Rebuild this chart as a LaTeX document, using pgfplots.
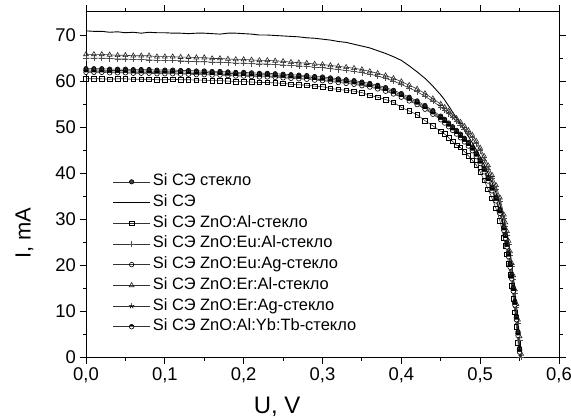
\documentclass[border=0pt]{standalone}
\usepackage{fontspec}
\setmainfont{Liberation Sans}
\usepackage{pgfplots}
\usepackage{pgfplotstable}
\pgfplotsset{compat=1.18}
\usetikzlibrary{plotmarks}

% legend sample with a plain line, for the curve drawn without marks
\pgfplotsset{solidleg/.style={legend image code/.code={\draw[##1] (0bp,0bp) -- (37bp,0bp);}}}

% V, Si CE (S), steklo (G), ZnO:Al (Q), ZnO:Eu:Al (P), ZnO:Eu:Ag (O), ZnO:Er:Al (T), ZnO:Er:Ag (St), ZnO:Al:Yb:Tb (Y)
\pgfplotstableread{
V     S    G    Q    P    O    T    St   Y
0.00  70.9 62.7 60.5 65.0 62.4 65.8 62.1 61.9
0.01  70.8 62.7 60.5 65.0 62.4 65.8 62.1 61.9
0.02  70.8 62.7 60.5 65.0 62.4 65.8 62.1 61.9
0.03  70.6 62.6 60.4 64.9 62.3 65.7 62.0 61.8
0.04  70.7 62.6 60.5 64.8 62.3 65.6 62.0 61.8
0.05  70.5 62.6 60.5 64.8 62.3 65.6 62.0 61.8
0.06  70.6 62.5 60.4 64.7 62.2 65.5 61.9 61.7
0.07  70.4 62.5 60.4 64.7 62.2 65.5 61.9 61.7
0.08  70.6 62.5 60.4 64.6 62.2 65.5 61.9 61.7
0.09  70.5 62.4 60.3 64.5 62.1 65.3 61.8 61.6
0.10  70.5 62.4 60.3 64.5 62.1 65.3 61.8 61.6
0.11  70.4 62.4 60.4 64.5 62.1 65.3 61.8 61.6
0.12  70.4 62.3 60.3 64.4 62.0 65.2 61.7 61.5
0.13  70.3 62.3 60.3 64.3 62.0 65.2 61.7 61.5
0.14  70.4 62.2 60.2 64.2 61.9 65.1 61.6 61.4
0.15  70.4 62.2 60.2 64.2 61.9 65.1 61.6 61.4
0.16  70.3 62.1 60.1 64.1 61.8 64.9 61.5 61.3
0.17  70.2 62.1 60.1 64.1 61.8 64.9 61.5 61.3
0.18  70.4 62.0 60.0 64.0 61.7 64.8 61.4 61.2
0.19  70.4 61.9 59.9 63.9 61.6 64.7 61.3 61.1
0.20  70.3 61.9 59.9 63.9 61.6 64.7 61.3 61.1
0.21  70.2 61.8 59.8 63.8 61.5 64.6 61.2 61.0
0.22  70.0 61.7 59.7 63.7 61.4 64.5 61.1 60.9
0.23  70.0 61.7 59.7 63.7 61.4 64.5 61.1 60.9
0.24  69.9 61.6 59.6 63.6 61.3 64.4 61.0 60.8
0.25  69.8 61.5 59.5 63.5 61.2 64.3 60.9 60.7
0.26  69.7 61.4 59.3 63.4 61.1 64.1 60.8 60.6
0.27  69.6 61.3 59.2 63.3 61.0 64.0 60.7 60.5
0.28  69.4 61.2 59.1 63.2 60.9 63.9 60.6 60.4
0.29  69.3 61.0 58.9 63.0 60.7 63.7 60.4 60.2
0.30  69.1 60.9 58.8 62.9 60.6 63.6 60.3 60.1
0.31  68.9 60.7 58.4 62.7 60.4 63.4 60.1 59.9
0.32  68.6 60.5 58.2 62.5 60.2 63.2 59.9 59.7
0.33  68.4 60.3 58.0 62.3 60.0 63.0 59.7 59.5
0.34  68.0 60.1 57.8 62.1 59.8 62.8 59.5 59.3
0.35  67.6 59.8 57.5 61.8 59.5 62.5 59.2 59.0
0.36  67.2 59.5 56.9 61.5 59.2 62.1 58.9 58.7
0.37  66.6 59.1 56.5 61.1 58.8 61.7 58.5 58.3
0.38  66.0 58.6 56.0 60.6 58.3 61.2 58.0 57.8
0.39  65.3 58.0 55.4 60.0 57.7 60.6 57.4 57.2
0.40  64.5 57.3 54.3 59.3 57.0 59.9 56.7 56.5
0.41  63.3 56.5 53.5 58.5 56.2 59.1 55.9 55.7
0.42  62.0 55.7 52.7 57.7 55.4 58.3 55.1 54.9
0.43  60.6 54.7 51.4 56.7 54.4 57.3 54.1 53.9
0.44  58.9 53.6 50.3 55.6 53.3 56.2 53.0 52.8
0.45  57.0 52.4 49.1 54.4 52.1 55.0 51.8 51.6
0.455 55.9 51.7 48.5 53.7 51.4 54.3 51.1 50.9
0.46  54.6 50.9 47.7 52.9 50.6 53.5 50.3 50.1
0.465 53.3 50.1 46.9 52.1 49.8 52.7 49.5 49.3
0.47  52.0 49.3 46.1 51.3 49.0 51.9 48.7 48.5
0.475 50.7 48.5 45.6 50.5 48.2 51.1 47.9 47.7
0.48  49.3 47.6 44.7 49.6 47.3 50.2 47.0 46.8
0.485 48.0 46.7 43.8 48.7 46.4 49.3 46.1 45.9
0.49  46.6 45.7 42.8 47.7 45.4 48.3 45.1 44.9
0.495 45.1 44.4 41.8 46.4 44.1 47.0 43.8 43.6
0.50  43.6 42.9 40.3 44.9 42.6 45.5 42.3 42.1
0.505 41.9 41.1 38.5 42.9 40.8 43.7 40.5 40.3
0.51  40.0 39.1 36.5 40.9 38.8 41.7 38.5 38.3
0.515 38.0 37.0 34.6 38.8 36.7 39.6 36.4 36.2
0.52  35.8 34.8 32.4 36.6 34.5 37.4 34.2 34.0
0.525 33.2 32.1 29.7 33.9 31.8 34.7 31.5 31.3
0.53  30.0 28.4 26.0 30.2 28.1 31.0 27.8 27.6
0.532 28.4 26.7 24.3 28.5 26.4 29.3 26.1 25.9
0.534 26.6 24.8 22.4 26.6 24.5 27.4 24.2 24.0
0.536 24.6 22.7 20.3 24.5 22.4 25.3 22.1 21.9
0.538 22.4 20.4 18.0 22.2 20.1 23.0 19.8 19.6
0.540 20.0 17.9 15.5 19.7 17.6 20.5 17.3 17.1
0.542 17.3 15.2 12.8 17.0 14.9 17.8 14.6 14.4
0.544 14.3 12.2 9.8  14.0 11.9 14.8 11.6 11.4
0.546 11.0 9.0  6.6  10.8 8.7  11.6 8.4  8.2
0.548 7.4  5.6  3.2  7.4  5.3  8.2  5.0  4.8
0.550 3.6  2.0  -0.4 3.8  1.7  4.6  1.4  1.2
0.552 -0.4 -1.8 -4.2 0.0  -2.1 0.8  -2.4 -2.6
0.554 -4.6 -5.8 -8.2 -4.0 -6.1 -3.2 -6.4 -6.6
}\iv

\begin{document}
\begin{tikzpicture}
\begin{axis}[
  name=ax,
  scale only axis, width=473bp, height=345.5bp,
  xmin=0, xmax=0.6, ymin=0, ymax=75,
  xtick={0,0.1,0.2,0.3,0.4,0.5,0.6}, minor x tick num=1,
  ytick={0,10,20,30,40,50,60,70}, minor y tick num=1,
  tick align=outside, major tick length=6.5bp, minor tick length=3.5bp,
  axis line style={line width=1bp},
  every tick/.style={black, line width=0.9bp},
  /pgf/number format/assume math mode=true,
  xticklabel style={/pgf/number format/.cd, fixed, fixed zerofill, precision=1, use comma},
  tick label style={font=\fontsize{18.5}{20}\selectfont},
  xlabel={U, V}, ylabel={I, mA},
  xlabel style={font=\fontsize{24}{26}\selectfont, at={(axis description cs:0.404,-0.143)}, anchor=center},
  ylabel style={font=\fontsize{22}{24}\selectfont, at={(axis description cs:-0.130,0.36)}, anchor=center},
  legend cell align=left,
  legend style={at={(axis description cs:0.056,0.539)}, anchor=north west, draw=none, fill=none,
    font=\fontsize{16.5}{19}\selectfont, row sep=0pt, inner sep=0pt,
    nodes={inner sep=2.35bp, text height=12bp, text depth=4bp}},
  legend image code/.code={%
    \draw[#1, mark=none, black!65] (0bp,0bp) -- (12.5bp,0bp);
    \draw[#1, mark=none, black!65] (24.5bp,0bp) -- (37bp,0bp);
    \path[#1, mark repeat=2, mark phase=2] plot coordinates {(0bp,0bp) (18.5bp,0bp) (37bp,0bp)};},
  every axis plot/.append style={line width=0.6bp, mark options={line width=0.8bp, solid}},
]
\addplot[black!80, mark=*, mark size=2.2bp, mark options={fill=black!75, draw=black}] table[x=V,y=G] {\iv};
\addlegendentry{Si СЭ стекло}
\addplot[black, line width=0.9bp, solidleg] table[x=V,y=S] {\iv};
\addlegendentry{Si СЭ}
\addplot[black!80, mark=square, mark size=2.3bp, mark options={draw=black}] table[x=V,y=Q] {\iv};
\addlegendentry{Si СЭ ZnO:Al-стекло}
\addplot[black!80, mark=+, mark size=3bp, mark options={draw=black!70}] table[x=V,y=P] {\iv};
\addlegendentry{Si СЭ ZnO:Eu:Al-стекло}
\addplot[black!80, mark=o, mark size=2.3bp, mark options={draw=black}] table[x=V,y=O] {\iv};
\addlegendentry{Si СЭ ZnO:Eu:Ag-стекло}
\addplot[black!80, mark=triangle, mark size=2.8bp, mark options={draw=black!85}] table[x=V,y=T] {\iv};
\addlegendentry{Si СЭ ZnO:Er:Al-стекло}
\addplot[black!80, mark=star, mark size=2.8bp, mark options={draw=black}] table[x=V,y=St] {\iv};
\addlegendentry{Si СЭ ZnO:Er:Ag-стекло}
\addplot[black!80, mark=halfcircle*, mark size=2.3bp, mark options={fill=black, draw=black}] table[x=V,y=Y] {\iv};
\addlegendentry{Si СЭ ZnO:Al:Yb:Tb-стекло}
\end{axis}
\pgfresetboundingbox
\path[use as bounding box] ([shift={(-86bp,-61.5bp)}]ax.south west) rectangle ([shift={(12bp,12bp)}]ax.north east);
\end{tikzpicture}
\end{document}
